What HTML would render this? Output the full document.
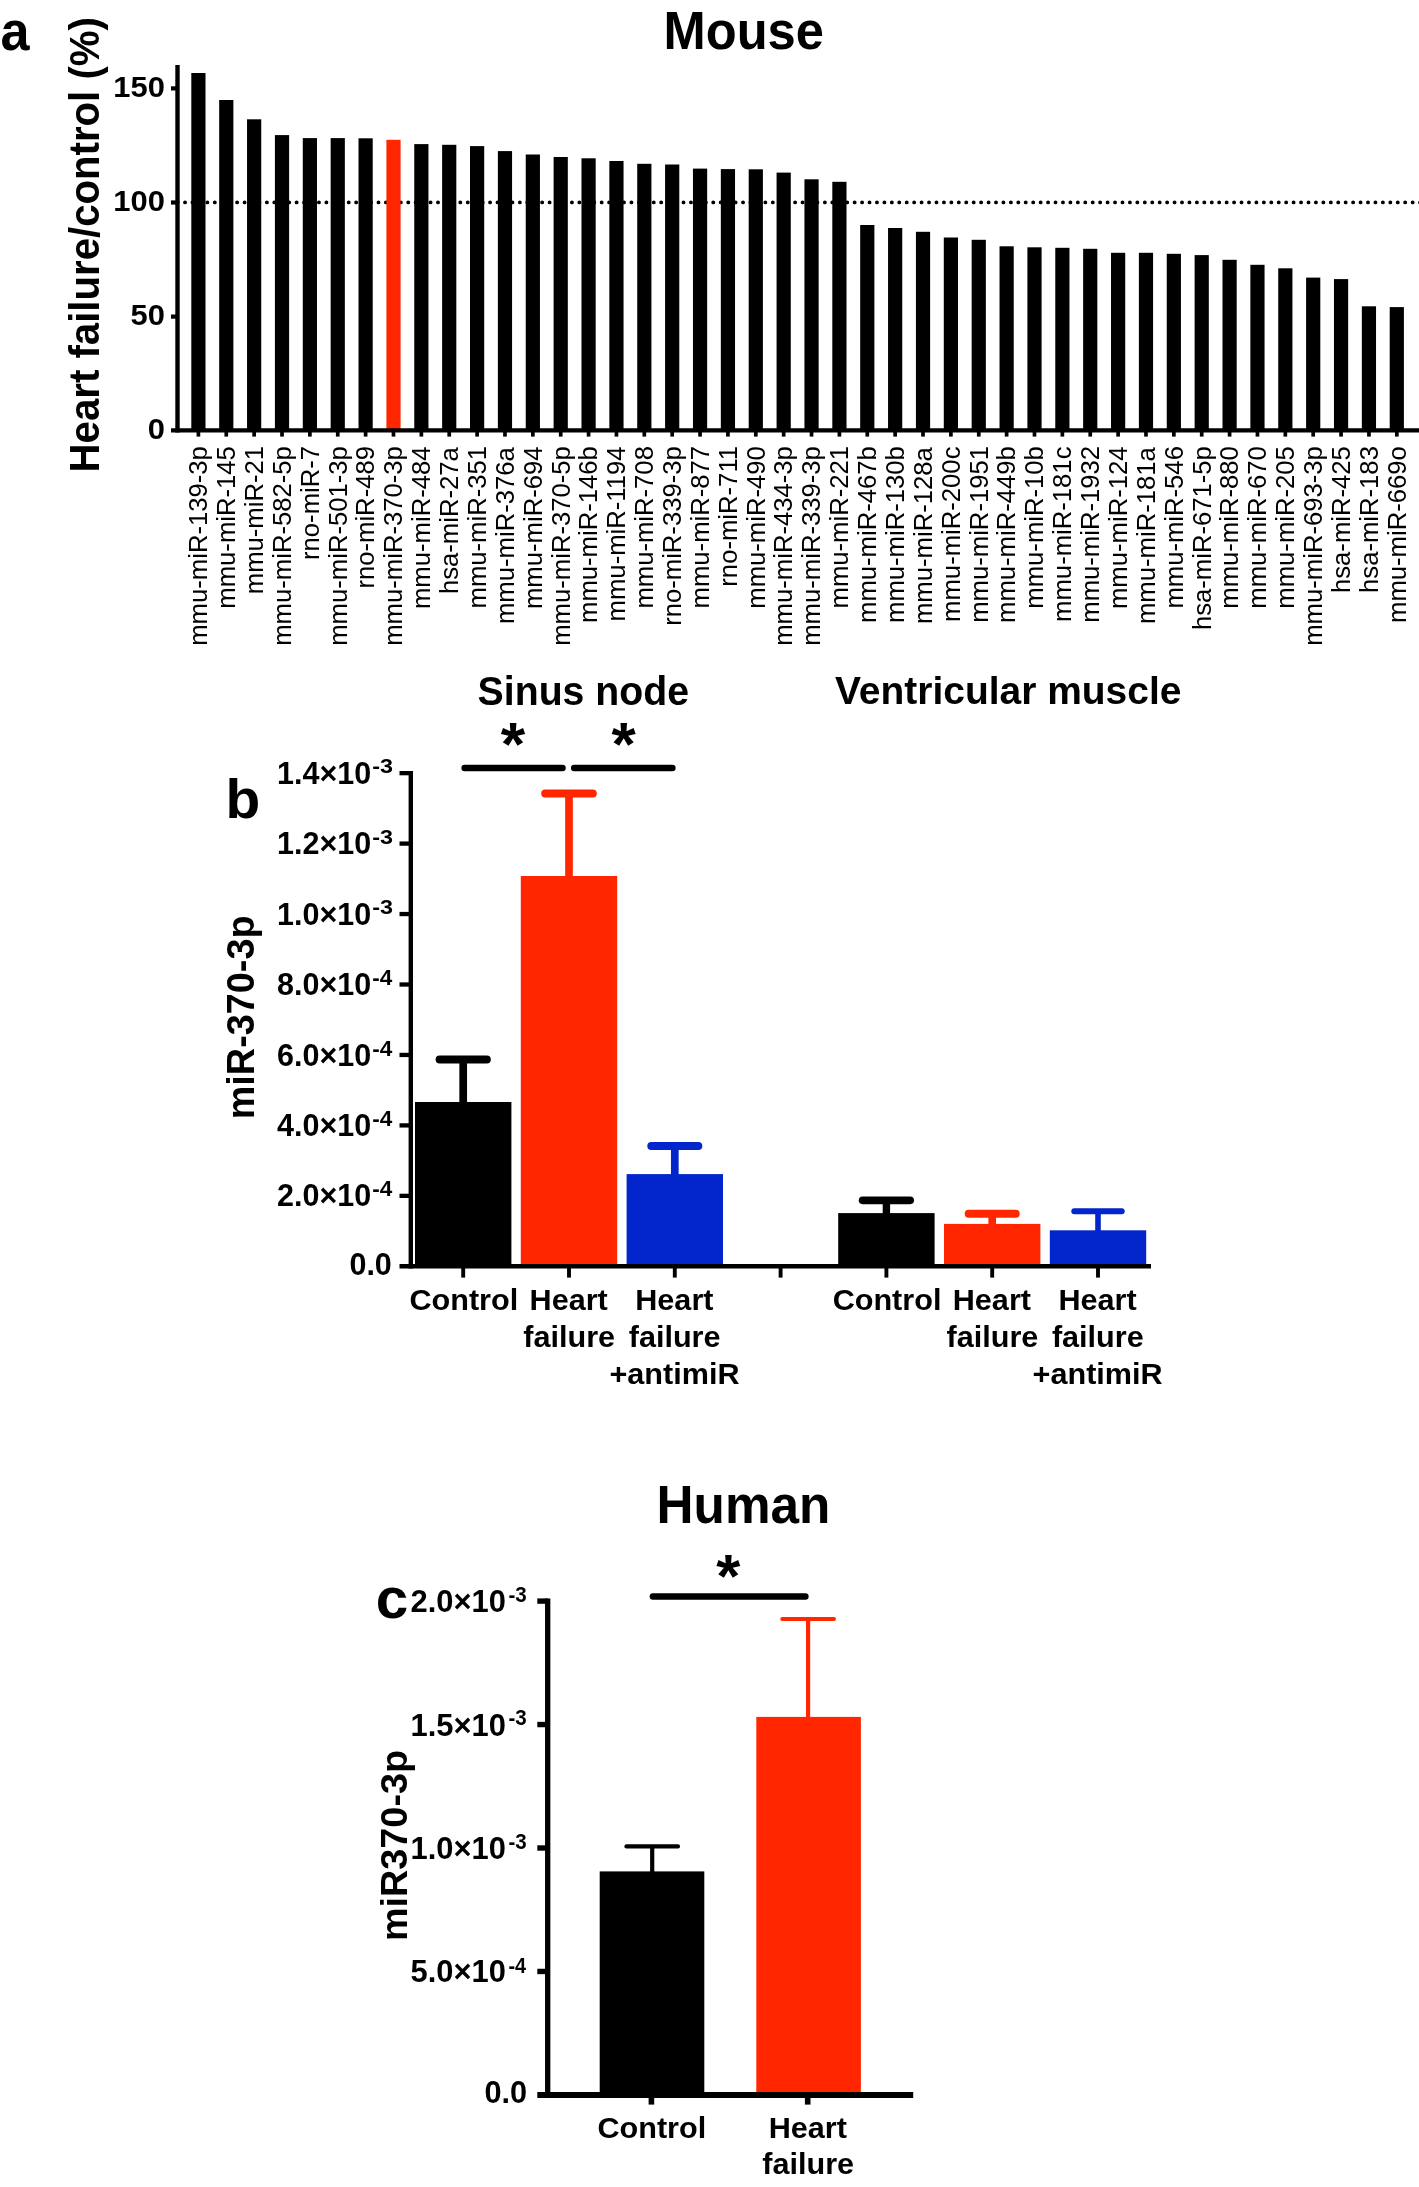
<!DOCTYPE html>
<html lang="en"><head><meta charset="utf-8"><title>miR-370-3p in heart failure</title>
<style>
html,body{margin:0;padding:0;background:#fff}
body{width:1419px;height:2187px;overflow:hidden}
svg{display:block;will-change:transform}
text{font-family:"Liberation Sans",sans-serif;font-weight:700;fill:#000}
.r,.r text{font-weight:400}
</style></head><body>
<svg width="1419" height="2187" viewBox="0 0 1419 2187">
<rect width="1419" height="2187" fill="#fff"/>
<g id="panel-a">
<text transform="translate(0.53 49.74) scale(0.9341 1)" font-size="55.89">a</text>
<text transform="translate(663.58 49.26) scale(0.9344 1)" font-size="54.19">Mouse</text>
<text transform="translate(99.28 472.41) rotate(-90) scale(0.9558 1)" font-size="42.04">Heart failure/control (%)</text>
<line x1="177.6" y1="202.4" x2="1425" y2="202.4" stroke="#000" stroke-width="3.9" stroke-linecap="round" stroke-dasharray="0 7.44"/>
<rect x="191.3" y="73" width="14.2" height="357.4" fill="#000"/>
<rect x="219.17" y="100" width="14.2" height="330.4" fill="#000"/>
<rect x="247.04" y="119.3" width="14.2" height="311.1" fill="#000"/>
<rect x="274.91" y="135.1" width="14.2" height="295.3" fill="#000"/>
<rect x="302.78" y="138.1" width="14.2" height="292.3" fill="#000"/>
<rect x="330.65" y="138.1" width="14.2" height="292.3" fill="#000"/>
<rect x="358.52" y="138.3" width="14.2" height="292.1" fill="#000"/>
<rect x="386.39" y="139.8" width="14.2" height="290.6" fill="#ff2600"/>
<rect x="414.26" y="144.1" width="14.2" height="286.3" fill="#000"/>
<rect x="442.13" y="144.8" width="14.2" height="285.6" fill="#000"/>
<rect x="470" y="146.1" width="14.2" height="284.3" fill="#000"/>
<rect x="497.87" y="151.1" width="14.2" height="279.3" fill="#000"/>
<rect x="525.74" y="154.5" width="14.2" height="275.9" fill="#000"/>
<rect x="553.61" y="157" width="14.2" height="273.4" fill="#000"/>
<rect x="581.48" y="158.3" width="14.2" height="272.1" fill="#000"/>
<rect x="609.35" y="161" width="14.2" height="269.4" fill="#000"/>
<rect x="637.22" y="163.8" width="14.2" height="266.6" fill="#000"/>
<rect x="665.09" y="164.5" width="14.2" height="265.9" fill="#000"/>
<rect x="692.96" y="168.6" width="14.2" height="261.8" fill="#000"/>
<rect x="720.83" y="169.1" width="14.2" height="261.3" fill="#000"/>
<rect x="748.7" y="169.3" width="14.2" height="261.1" fill="#000"/>
<rect x="776.57" y="172.6" width="14.2" height="257.8" fill="#000"/>
<rect x="804.44" y="179.3" width="14.2" height="251.1" fill="#000"/>
<rect x="832.31" y="181.8" width="14.2" height="248.6" fill="#000"/>
<rect x="860.18" y="225" width="14.2" height="205.4" fill="#000"/>
<rect x="888.05" y="228" width="14.2" height="202.4" fill="#000"/>
<rect x="915.92" y="231.8" width="14.2" height="198.6" fill="#000"/>
<rect x="943.79" y="237.5" width="14.2" height="192.9" fill="#000"/>
<rect x="971.66" y="239.8" width="14.2" height="190.6" fill="#000"/>
<rect x="999.53" y="246.3" width="14.2" height="184.1" fill="#000"/>
<rect x="1027.4" y="247.3" width="14.2" height="183.1" fill="#000"/>
<rect x="1055.27" y="247.8" width="14.2" height="182.6" fill="#000"/>
<rect x="1083.14" y="248.8" width="14.2" height="181.6" fill="#000"/>
<rect x="1111.01" y="252.8" width="14.2" height="177.6" fill="#000"/>
<rect x="1138.88" y="252.8" width="14.2" height="177.6" fill="#000"/>
<rect x="1166.75" y="253.8" width="14.2" height="176.6" fill="#000"/>
<rect x="1194.62" y="255.1" width="14.2" height="175.3" fill="#000"/>
<rect x="1222.49" y="259.8" width="14.2" height="170.6" fill="#000"/>
<rect x="1250.36" y="264.8" width="14.2" height="165.6" fill="#000"/>
<rect x="1278.23" y="268.3" width="14.2" height="162.1" fill="#000"/>
<rect x="1306.1" y="277.6" width="14.2" height="152.8" fill="#000"/>
<rect x="1333.97" y="279.1" width="14.2" height="151.3" fill="#000"/>
<rect x="1361.84" y="306.3" width="14.2" height="124.1" fill="#000"/>
<rect x="1389.71" y="307.1" width="14.2" height="123.3" fill="#000"/>
<line x1="177.5" y1="65" x2="177.5" y2="432.6" stroke="#000" stroke-width="4.4"/>
<line x1="171" y1="430.4" x2="1419" y2="430.4" stroke="#000" stroke-width="4.4"/>
<line x1="171" y1="88.4" x2="177.5" y2="88.4" stroke="#000" stroke-width="4.2"/>
<line x1="171" y1="202.5" x2="177.5" y2="202.5" stroke="#000" stroke-width="4.2"/>
<line x1="171" y1="316.6" x2="177.5" y2="316.6" stroke="#000" stroke-width="4.2"/>
<line x1="198.4" y1="430.4" x2="198.4" y2="436.6" stroke="#000" stroke-width="3.7"/>
<line x1="226.27" y1="430.4" x2="226.27" y2="436.6" stroke="#000" stroke-width="3.7"/>
<line x1="254.14" y1="430.4" x2="254.14" y2="436.6" stroke="#000" stroke-width="3.7"/>
<line x1="282.01" y1="430.4" x2="282.01" y2="436.6" stroke="#000" stroke-width="3.7"/>
<line x1="309.88" y1="430.4" x2="309.88" y2="436.6" stroke="#000" stroke-width="3.7"/>
<line x1="337.75" y1="430.4" x2="337.75" y2="436.6" stroke="#000" stroke-width="3.7"/>
<line x1="365.62" y1="430.4" x2="365.62" y2="436.6" stroke="#000" stroke-width="3.7"/>
<line x1="393.49" y1="430.4" x2="393.49" y2="436.6" stroke="#000" stroke-width="3.7"/>
<line x1="421.36" y1="430.4" x2="421.36" y2="436.6" stroke="#000" stroke-width="3.7"/>
<line x1="449.23" y1="430.4" x2="449.23" y2="436.6" stroke="#000" stroke-width="3.7"/>
<line x1="477.1" y1="430.4" x2="477.1" y2="436.6" stroke="#000" stroke-width="3.7"/>
<line x1="504.97" y1="430.4" x2="504.97" y2="436.6" stroke="#000" stroke-width="3.7"/>
<line x1="532.84" y1="430.4" x2="532.84" y2="436.6" stroke="#000" stroke-width="3.7"/>
<line x1="560.71" y1="430.4" x2="560.71" y2="436.6" stroke="#000" stroke-width="3.7"/>
<line x1="588.58" y1="430.4" x2="588.58" y2="436.6" stroke="#000" stroke-width="3.7"/>
<line x1="616.45" y1="430.4" x2="616.45" y2="436.6" stroke="#000" stroke-width="3.7"/>
<line x1="644.32" y1="430.4" x2="644.32" y2="436.6" stroke="#000" stroke-width="3.7"/>
<line x1="672.19" y1="430.4" x2="672.19" y2="436.6" stroke="#000" stroke-width="3.7"/>
<line x1="700.06" y1="430.4" x2="700.06" y2="436.6" stroke="#000" stroke-width="3.7"/>
<line x1="727.93" y1="430.4" x2="727.93" y2="436.6" stroke="#000" stroke-width="3.7"/>
<line x1="755.8" y1="430.4" x2="755.8" y2="436.6" stroke="#000" stroke-width="3.7"/>
<line x1="783.67" y1="430.4" x2="783.67" y2="436.6" stroke="#000" stroke-width="3.7"/>
<line x1="811.54" y1="430.4" x2="811.54" y2="436.6" stroke="#000" stroke-width="3.7"/>
<line x1="839.41" y1="430.4" x2="839.41" y2="436.6" stroke="#000" stroke-width="3.7"/>
<line x1="867.28" y1="430.4" x2="867.28" y2="436.6" stroke="#000" stroke-width="3.7"/>
<line x1="895.15" y1="430.4" x2="895.15" y2="436.6" stroke="#000" stroke-width="3.7"/>
<line x1="923.02" y1="430.4" x2="923.02" y2="436.6" stroke="#000" stroke-width="3.7"/>
<line x1="950.89" y1="430.4" x2="950.89" y2="436.6" stroke="#000" stroke-width="3.7"/>
<line x1="978.76" y1="430.4" x2="978.76" y2="436.6" stroke="#000" stroke-width="3.7"/>
<line x1="1006.63" y1="430.4" x2="1006.63" y2="436.6" stroke="#000" stroke-width="3.7"/>
<line x1="1034.5" y1="430.4" x2="1034.5" y2="436.6" stroke="#000" stroke-width="3.7"/>
<line x1="1062.37" y1="430.4" x2="1062.37" y2="436.6" stroke="#000" stroke-width="3.7"/>
<line x1="1090.24" y1="430.4" x2="1090.24" y2="436.6" stroke="#000" stroke-width="3.7"/>
<line x1="1118.11" y1="430.4" x2="1118.11" y2="436.6" stroke="#000" stroke-width="3.7"/>
<line x1="1145.98" y1="430.4" x2="1145.98" y2="436.6" stroke="#000" stroke-width="3.7"/>
<line x1="1173.85" y1="430.4" x2="1173.85" y2="436.6" stroke="#000" stroke-width="3.7"/>
<line x1="1201.72" y1="430.4" x2="1201.72" y2="436.6" stroke="#000" stroke-width="3.7"/>
<line x1="1229.59" y1="430.4" x2="1229.59" y2="436.6" stroke="#000" stroke-width="3.7"/>
<line x1="1257.46" y1="430.4" x2="1257.46" y2="436.6" stroke="#000" stroke-width="3.7"/>
<line x1="1285.33" y1="430.4" x2="1285.33" y2="436.6" stroke="#000" stroke-width="3.7"/>
<line x1="1313.2" y1="430.4" x2="1313.2" y2="436.6" stroke="#000" stroke-width="3.7"/>
<line x1="1341.07" y1="430.4" x2="1341.07" y2="436.6" stroke="#000" stroke-width="3.7"/>
<line x1="1368.94" y1="430.4" x2="1368.94" y2="436.6" stroke="#000" stroke-width="3.7"/>
<line x1="1396.81" y1="430.4" x2="1396.81" y2="436.6" stroke="#000" stroke-width="3.7"/>
<text transform="translate(113.23 97.1) scale(1.0350 1)" font-size="29.9">150</text>
<text transform="translate(113.23 211.2) scale(1.0350 1)" font-size="29.9">100</text>
<text transform="translate(130.49 325.3) scale(1.0350 1)" font-size="29.9">50</text>
<text transform="translate(147.66 439.1) scale(1.0350 1)" font-size="29.9">0</text>
<g class="r" font-size="26">
<text transform="translate(207.2 645.76) rotate(-90) scale(.987 1)">mmu-miR-139-3p</text>
<text transform="translate(235.07 608.68) rotate(-90) scale(.987 1)">mmu-miR-145</text>
<text transform="translate(262.94 594.24) rotate(-90) scale(.987 1)">mmu-miR-21</text>
<text transform="translate(290.81 645.76) rotate(-90) scale(.987 1)">mmu-miR-582-5p</text>
<text transform="translate(318.68 559.98) rotate(-90) scale(.987 1)">rno-miR-7</text>
<text transform="translate(346.55 645.76) rotate(-90) scale(.987 1)">mmu-miR-501-3p</text>
<text transform="translate(374.42 588.6) rotate(-90) scale(.987 1)">rno-miR-489</text>
<text transform="translate(402.29 645.76) rotate(-90) scale(.987 1)">mmu-miR-370-3p</text>
<text transform="translate(430.16 609) rotate(-90) scale(.987 1)">mmu-miR-484</text>
<text transform="translate(458.03 594.05) rotate(-90) scale(.987 1)">hsa-miR-27a</text>
<text transform="translate(485.9 608.49) rotate(-90) scale(.987 1)">mmu-miR-351</text>
<text transform="translate(513.77 624.01) rotate(-90) scale(.987 1)">mmu-miR-376a</text>
<text transform="translate(541.64 609) rotate(-90) scale(.987 1)">mmu-miR-694</text>
<text transform="translate(569.51 645.76) rotate(-90) scale(.987 1)">mmu-miR-370-5p</text>
<text transform="translate(597.38 622.98) rotate(-90) scale(.987 1)">mmu-miR-146b</text>
<text transform="translate(625.25 621.38) rotate(-90) scale(.987 1)">mmu-miR-1194</text>
<text transform="translate(653.12 608.61) rotate(-90) scale(.987 1)">mmu-miR-708</text>
<text transform="translate(680.99 625.87) rotate(-90) scale(.987 1)">rno-miR-339-3p</text>
<text transform="translate(708.86 608.42) rotate(-90) scale(.987 1)">mmu-miR-877</text>
<text transform="translate(736.73 586.67) rotate(-90) scale(.987 1)">rno-miR-711</text>
<text transform="translate(764.6 608.74) rotate(-90) scale(.987 1)">mmu-miR-490</text>
<text transform="translate(792.47 645.76) rotate(-90) scale(.987 1)">mmu-miR-434-3p</text>
<text transform="translate(820.34 645.76) rotate(-90) scale(.987 1)">mmu-miR-339-3p</text>
<text transform="translate(848.21 608.49) rotate(-90) scale(.987 1)">mmu-miR-221</text>
<text transform="translate(876.08 622.98) rotate(-90) scale(.987 1)">mmu-miR-467b</text>
<text transform="translate(903.95 622.98) rotate(-90) scale(.987 1)">mmu-miR-130b</text>
<text transform="translate(931.82 624.01) rotate(-90) scale(.987 1)">mmu-miR-128a</text>
<text transform="translate(959.69 621.89) rotate(-90) scale(.987 1)">mmu-miR-200c</text>
<text transform="translate(987.56 622.79) rotate(-90) scale(.987 1)">mmu-miR-1951</text>
<text transform="translate(1015.43 622.98) rotate(-90) scale(.987 1)">mmu-miR-449b</text>
<text transform="translate(1043.3 608.68) rotate(-90) scale(.987 1)">mmu-miR-10b</text>
<text transform="translate(1071.17 621.89) rotate(-90) scale(.987 1)">mmu-miR-181c</text>
<text transform="translate(1099.04 622.73) rotate(-90) scale(.987 1)">mmu-miR-1932</text>
<text transform="translate(1126.91 609) rotate(-90) scale(.987 1)">mmu-miR-124</text>
<text transform="translate(1154.78 624.01) rotate(-90) scale(.987 1)">mmu-miR-181a</text>
<text transform="translate(1182.65 608.61) rotate(-90) scale(.987 1)">mmu-miR-546</text>
<text transform="translate(1210.52 630.11) rotate(-90) scale(.987 1)">hsa-miR-671-5p</text>
<text transform="translate(1238.39 608.74) rotate(-90) scale(.987 1)">mmu-miR-880</text>
<text transform="translate(1266.26 608.74) rotate(-90) scale(.987 1)">mmu-miR-670</text>
<text transform="translate(1294.13 608.68) rotate(-90) scale(.987 1)">mmu-miR-205</text>
<text transform="translate(1322 645.76) rotate(-90) scale(.987 1)">mmu-miR-693-3p</text>
<text transform="translate(1349.87 593.02) rotate(-90) scale(.987 1)">hsa-miR-425</text>
<text transform="translate(1377.74 592.96) rotate(-90) scale(.987 1)">hsa-miR-183</text>
<text transform="translate(1405.61 622.98) rotate(-90) scale(.987 1)">mmu-miR-669o</text>
</g>
</g>
<g id="panel-b">
<text transform="translate(225.61 818.34) scale(1.0114 1)" font-size="56.19">b</text>
<text transform="translate(477.62 704.6) scale(0.9774 1)" font-size="40.14">Sinus node</text>
<text transform="translate(835.01 703.81) scale(0.9909 1)" font-size="39.32">Ventricular muscle</text>
<line x1="463.2" y1="1059.6" x2="463.2" y2="1103" stroke="#000" stroke-width="7.7"/>
<line x1="439.6" y1="1059.6" x2="486.8" y2="1059.6" stroke="#000" stroke-width="8" stroke-linecap="round"/>
<line x1="569" y1="793.4" x2="569" y2="877" stroke="#ff2600" stroke-width="7.7"/>
<line x1="545.2" y1="793.4" x2="592.8" y2="793.4" stroke="#ff2600" stroke-width="8" stroke-linecap="round"/>
<line x1="674.8" y1="1146.1" x2="674.8" y2="1175.1" stroke="#0226cc" stroke-width="7.7"/>
<line x1="651.3" y1="1146.1" x2="698.3" y2="1146.1" stroke="#0226cc" stroke-width="8" stroke-linecap="round"/>
<line x1="886.4" y1="1200.3" x2="886.4" y2="1214.1" stroke="#000" stroke-width="7.4"/>
<line x1="862.65" y1="1200.3" x2="910.15" y2="1200.3" stroke="#000" stroke-width="7.7" stroke-linecap="round"/>
<line x1="992.2" y1="1213.7" x2="992.2" y2="1224.9" stroke="#ff2600" stroke-width="7.6"/>
<line x1="968.65" y1="1213.7" x2="1015.75" y2="1213.7" stroke="#ff2600" stroke-width="7.9" stroke-linecap="round"/>
<line x1="1098" y1="1211.3" x2="1098" y2="1231.3" stroke="#0226cc" stroke-width="5.6"/>
<line x1="1074.25" y1="1211.3" x2="1121.75" y2="1211.3" stroke="#0226cc" stroke-width="5.9" stroke-linecap="round"/>
<rect x="415" y="1102" width="96.4" height="164.3" fill="#000"/>
<rect x="520.8" y="876" width="96.4" height="390.3" fill="#ff2600"/>
<rect x="626.6" y="1174.1" width="96.4" height="92.2" fill="#0226cc"/>
<rect x="838.2" y="1213.1" width="96.4" height="53.2" fill="#000"/>
<rect x="944" y="1223.9" width="96.4" height="42.4" fill="#ff2600"/>
<rect x="1049.8" y="1230.3" width="96.4" height="36" fill="#0226cc"/>
<line x1="410.8" y1="770.95" x2="410.8" y2="1268.5" stroke="#000" stroke-width="4.4"/>
<line x1="399.5" y1="1266.3" x2="1151" y2="1266.3" stroke="#000" stroke-width="4.4"/>
<line x1="399.5" y1="1195.85" x2="410.8" y2="1195.85" stroke="#000" stroke-width="4.3"/>
<line x1="399.5" y1="1125.4" x2="410.8" y2="1125.4" stroke="#000" stroke-width="4.3"/>
<line x1="399.5" y1="1054.95" x2="410.8" y2="1054.95" stroke="#000" stroke-width="4.3"/>
<line x1="399.5" y1="984.5" x2="410.8" y2="984.5" stroke="#000" stroke-width="4.3"/>
<line x1="399.5" y1="914.05" x2="410.8" y2="914.05" stroke="#000" stroke-width="4.3"/>
<line x1="399.5" y1="843.6" x2="410.8" y2="843.6" stroke="#000" stroke-width="4.3"/>
<line x1="399.5" y1="773.15" x2="410.8" y2="773.15" stroke="#000" stroke-width="4.3"/>
<line x1="463.2" y1="1266.3" x2="463.2" y2="1277.6" stroke="#000" stroke-width="3.9"/>
<line x1="569" y1="1266.3" x2="569" y2="1277.6" stroke="#000" stroke-width="3.9"/>
<line x1="674.8" y1="1266.3" x2="674.8" y2="1277.6" stroke="#000" stroke-width="3.9"/>
<line x1="780.6" y1="1266.3" x2="780.6" y2="1277.6" stroke="#000" stroke-width="3.9"/>
<line x1="886.4" y1="1266.3" x2="886.4" y2="1277.6" stroke="#000" stroke-width="3.9"/>
<line x1="992.2" y1="1266.3" x2="992.2" y2="1277.6" stroke="#000" stroke-width="3.9"/>
<line x1="1098" y1="1266.3" x2="1098" y2="1277.6" stroke="#000" stroke-width="3.9"/>
<text transform="translate(372.16 773.49) scale(1.1218 1)" font-size="20.85">-3</text>
<text transform="translate(277.03 783.75) scale(1.0000 1)" font-size="30.5">1.4×10</text>
<text transform="translate(372.16 843.94) scale(1.1218 1)" font-size="20.85">-3</text>
<text transform="translate(277.03 854.2) scale(1.0000 1)" font-size="30.5">1.2×10</text>
<text transform="translate(372.16 914.39) scale(1.1218 1)" font-size="20.85">-3</text>
<text transform="translate(277.03 924.65) scale(1.0000 1)" font-size="30.5">1.0×10</text>
<text transform="translate(372.2 985.1) scale(1.0476 1)" font-size="21.53">-4</text>
<text transform="translate(277.03 995.1) scale(1.0000 1)" font-size="30.5">8.0×10</text>
<text transform="translate(372.2 1055.55) scale(1.0476 1)" font-size="21.53">-4</text>
<text transform="translate(277.03 1065.55) scale(1.0000 1)" font-size="30.5">6.0×10</text>
<text transform="translate(372.2 1126) scale(1.0476 1)" font-size="21.53">-4</text>
<text transform="translate(277.03 1136) scale(1.0000 1)" font-size="30.5">4.0×10</text>
<text transform="translate(372.2 1196.45) scale(1.0476 1)" font-size="21.53">-4</text>
<text transform="translate(277.03 1206.45) scale(1.0000 1)" font-size="30.5">2.0×10</text>
<text transform="translate(349.43 1274.6) scale(1.0000 1)" font-size="30.5">0.0</text>
<text transform="translate(253.59 1119.26) rotate(-90) scale(0.9793 1)" font-size="38.61">miR-370-3p</text>
<line x1="464.6" y1="768.1" x2="562.5" y2="768.1" stroke="#000" stroke-width="6.5" stroke-linecap="round"/>
<line x1="574.2" y1="768.1" x2="672.4" y2="768.1" stroke="#000" stroke-width="6.5" stroke-linecap="round"/>
<text transform="translate(500.64 764.75) scale(1.0180 1)" font-size="61.74">*</text>
<text transform="translate(611.44 764.75) scale(1.0096 1)" font-size="61.74">*</text>
<text transform="translate(409.43 1309.6) scale(1.0450 1)" font-size="29.3">Control</text>
<text transform="translate(832.63 1309.6) scale(1.0450 1)" font-size="29.3">Control</text>
<text transform="translate(529.54 1309.6) scale(1.0450 1)" font-size="29.3">Heart</text>
<text transform="translate(523.3 1346.5) scale(1.0450 1)" font-size="29.3">failure</text>
<text transform="translate(952.74 1309.6) scale(1.0450 1)" font-size="29.3">Heart</text>
<text transform="translate(946.5 1346.5) scale(1.0450 1)" font-size="29.3">failure</text>
<text transform="translate(635.24 1309.6) scale(1.0450 1)" font-size="29.3">Heart</text>
<text transform="translate(628.7 1346.5) scale(1.0450 1)" font-size="29.3">failure</text>
<text transform="translate(609.39 1383.8) scale(1.0450 1)" font-size="29.3">+antimiR</text>
<text transform="translate(1058.44 1309.6) scale(1.0450 1)" font-size="29.3">Heart</text>
<text transform="translate(1051.9 1346.5) scale(1.0450 1)" font-size="29.3">failure</text>
<text transform="translate(1032.59 1383.8) scale(1.0450 1)" font-size="29.3">+antimiR</text>
</g>
<g id="panel-c">
<text transform="translate(375.76 1617.62) scale(1.0129 1)" font-size="57.72">c</text>
<text transform="translate(656.54 1523.26) scale(0.9540 1)" font-size="53.76">Human</text>
<line x1="652.2" y1="1846.4" x2="652.2" y2="1872.4" stroke="#000" stroke-width="4.2"/>
<line x1="626.45" y1="1846.4" x2="677.95" y2="1846.4" stroke="#000" stroke-width="4.2" stroke-linecap="round"/>
<line x1="808.1" y1="1619" x2="808.1" y2="1717.9" stroke="#ff2600" stroke-width="4.2"/>
<line x1="782.35" y1="1619" x2="833.85" y2="1619" stroke="#ff2600" stroke-width="4.2" stroke-linecap="round"/>
<rect x="599.7" y="1871.4" width="104.6" height="223.5" fill="#000"/>
<rect x="756.3" y="1716.9" width="104.6" height="378" fill="#ff2600"/>
<line x1="547.7" y1="1598.45" x2="547.7" y2="2097.55" stroke="#000" stroke-width="5.3"/>
<line x1="537.3" y1="2094.9" x2="913.2" y2="2094.9" stroke="#000" stroke-width="6"/>
<line x1="537.3" y1="1971.45" x2="547.7" y2="1971.45" stroke="#000" stroke-width="5.4"/>
<line x1="537.3" y1="1848" x2="547.7" y2="1848" stroke="#000" stroke-width="5.4"/>
<line x1="537.3" y1="1724.55" x2="547.7" y2="1724.55" stroke="#000" stroke-width="5.4"/>
<line x1="537.3" y1="1601.1" x2="547.7" y2="1601.1" stroke="#000" stroke-width="5.4"/>
<line x1="651.4" y1="2094.9" x2="651.4" y2="2104.6" stroke="#000" stroke-width="5.6"/>
<line x1="807.7" y1="2094.9" x2="807.7" y2="2104.6" stroke="#000" stroke-width="5.6"/>
<text transform="translate(508.48 1602.03) scale(0.9476 1)" font-size="21.69">-3</text>
<text transform="translate(410.51 1612.1) scale(1.0000 1)" font-size="30.9">2.0×10</text>
<text transform="translate(508.48 1725.48) scale(0.9476 1)" font-size="21.69">-3</text>
<text transform="translate(410.51 1735.55) scale(1.0000 1)" font-size="30.9">1.5×10</text>
<text transform="translate(508.48 1848.93) scale(0.9476 1)" font-size="21.69">-3</text>
<text transform="translate(410.51 1859) scale(1.0000 1)" font-size="30.9">1.0×10</text>
<text transform="translate(508.51 1972.65) scale(0.8849 1)" font-size="22.4">-4</text>
<text transform="translate(410.51 1982.45) scale(1.0000 1)" font-size="30.9">5.0×10</text>
<text transform="translate(484.45 2103.2) scale(1.0000 1)" font-size="30.7">0.0</text>
<text transform="translate(407.47 1941.06) rotate(-90) scale(1.0014 1)" font-size="37.75">miR370-3p</text>
<line x1="652.9" y1="1596.6" x2="805.4" y2="1596.6" stroke="#000" stroke-width="6.5" stroke-linecap="round"/>
<text transform="translate(716.15 1597.25) scale(1.0012 1)" font-size="61.74">*</text>
<text transform="translate(597.43 2137.6) scale(1.0450 1)" font-size="29.3">Control</text>
<text transform="translate(768.64 2137.6) scale(1.0450 1)" font-size="29.3">Heart</text>
<text transform="translate(762.3 2174.3) scale(1.0450 1)" font-size="29.3">failure</text>
</g>
</svg>
</body></html>
